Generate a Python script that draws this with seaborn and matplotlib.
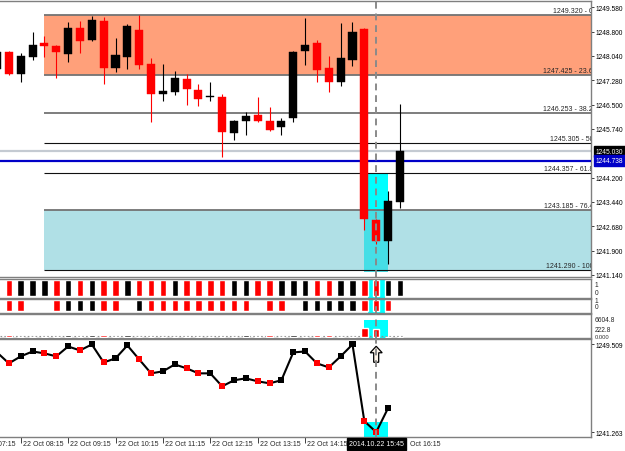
import numpy as np
import pandas as pd
import matplotlib
matplotlib.use('Agg')
import matplotlib.pyplot as plt
import matplotlib.transforms as mtransforms
from matplotlib.patches import Rectangle, Polygon
import seaborn as sns

# ---- values, 22 Oct 2014 ----
times = ['07:45',
         '08:00', '08:15', '08:30', '08:45', '09:00', '09:15', '09:30', '09:45',
         '10:00', '10:15', '10:30', '10:45', '11:00', '11:15', '11:30', '11:45',
         '12:00', '12:15', '12:30', '12:45', '13:00', '13:15', '13:30', '13:45',
         '14:00', '14:15', '14:30', '14:45', '15:00', '15:15', '15:30', '15:45',
         '16:00', '16:15']
opens = [1247.627, 1248.163, 1247.470, 1248.005, 1248.446, 1248.352, 1248.100, 1248.919, 1248.541,
         1249.139, 1247.659, 1248.005, 1248.856, 1247.785, 1246.840, 1246.903, 1247.312,
         1246.966, 1246.745, 1246.745, 1245.611, 1245.989, 1246.178, 1245.989, 1245.800,
         1246.084, 1248.194, 1248.446, 1247.659, 1247.218, 1247.911, 1248.887, 1242.871,
         1242.209, 1243.437]
highs = [1248.200, 1248.194, 1248.131, 1248.793, 1248.667, 1248.380, 1249.108, 1249.139, 1249.297,
         1249.265, 1248.604, 1249.045, 1249.328, 1247.974, 1247.785, 1247.564, 1247.470,
         1247.155, 1247.218, 1246.840, 1246.021, 1246.273, 1246.745, 1246.430, 1246.084,
         1248.194, 1249.234, 1248.541, 1248.037, 1249.076, 1249.108, 1248.920, 1242.900,
         1243.784, 1246.525]
lows = [1247.600, 1247.438, 1247.218, 1247.911, 1248.005, 1247.344, 1247.848, 1248.131, 1248.509,
        1247.155, 1247.533, 1247.627, 1247.627, 1245.958, 1246.619, 1246.808, 1246.493,
        1246.462, 1246.619, 1244.855, 1245.391, 1245.548, 1245.958, 1245.674, 1245.548,
        1245.958, 1247.753, 1247.218, 1246.903, 1247.092, 1247.722, 1242.556, 1242.100,
        1241.484, 1243.249]
closes = [1248.163, 1247.470, 1248.037, 1248.383, 1248.352, 1248.163, 1248.919, 1248.509, 1249.171,
          1247.659, 1248.068, 1248.982, 1247.753, 1246.840, 1246.934, 1247.344, 1246.997,
          1246.682, 1246.745, 1245.643, 1245.989, 1246.147, 1245.989, 1245.706, 1245.989,
          1248.163, 1248.383, 1247.596, 1247.218, 1247.974, 1248.793, 1242.902, 1242.209,
          1243.469, 1245.030]

fib_start = '08:45'
fib_levels = [1249.320, 1247.425, 1246.253, 1245.305, 1244.357, 1243.185, 1241.290]
fib_pcts = ['0', '23.6', '38.2', '50', '61.8', '76.4', '100']
price_ticks = [1249.580, 1248.800, 1248.040, 1247.280, 1246.500, 1245.740,
               1244.200, 1243.440, 1242.680, 1241.900, 1241.140]
bid_price = 1245.030
blue_level = 1244.738

signal_time = '15:45'
box_from, box_to = '15:30', '16:00'
box_top, box_bottom = 1244.32, 1241.23

# two signal strips (R = red, K = black, W = empty)
strip_top = list('K' 'RKKKRKRKRR' 'KRRRKRRRRK' 'KRRKKKRRKK' 'RRKK')
strip_bottom = list('K' 'RRWWRKKKRR' 'WKRRRRRRRR' 'RWRRWKKKKK' 'RRRW')

hist_values = [0, 650, 0, 0, 0, 0, 600, 0, 700, 650, 0, 600, 0, 0, 0, 0, 0, 0, 0, 0, 0,
               550, 0, 600, 0, 600, 0, 700, 650, 0, 0, 2900, 2550, 0, 0]
hist_max, hist_level = 6604.8, 222.8

line_values = [1248.76, 1247.73, 1248.39, 1248.85, 1248.67, 1248.39, 1249.32, 1248.95, 1249.51,
               1247.82, 1248.20, 1249.42, 1248.10, 1246.79, 1246.98, 1247.63, 1247.26,
               1246.79, 1246.79, 1245.57, 1246.14, 1246.32, 1246.04, 1245.85, 1246.14,
               1248.76, 1248.85, 1247.73, 1247.35, 1248.39, 1249.51, 1242.29, 1241.26, 1243.51]
line_max, line_min = 1249.509, 1241.263

tick_times = ['07:15', '08:15', '09:15', '10:15', '11:15', '12:15', '13:15', '14:15', '15:15', '16:15']

# ---- figure ----
sns.set_style('white')
plt.rcParams['font.family'] = ['Liberation Sans', 'DejaVu Sans']
plt.rcParams['font.size'] = 5.0
FS_AXIS = 4.8

W, H = 625, 452
fig = plt.figure(figsize=(W / 100, H / 100), dpi=100)
fig.patch.set_facecolor('white')


def panel(top, bottom):
    return fig.add_axes([0, 1 - bottom / H, 591 / W, (bottom - top) / H])


ax_main = panel(2, 278)
ax_s1 = panel(279.5, 298.5)
ax_s2 = panel(299.5, 313.5)
ax_h = panel(315, 338.5)
ax_l = panel(339.5, 438)
all_axes = [ax_main, ax_s1, ax_s2, ax_h, ax_l]

df = pd.DataFrame({'time': times, 'open': opens, 'high': highs, 'low': lows, 'close': closes})
df['k'] = np.arange(len(df))
df['up'] = df['close'] >= df['open']
cols = np.where(df['up'], 'black', '#ff0000')
x = df['k'].values
xmin, xmax = 0.25, 50.13
k_dash = times.index(signal_time)
k_fib = times.index(fib_start)
k0, k1 = times.index(box_from), times.index(box_to)

for ax in all_axes:
    ax.set_facecolor('white')
    ax.set_xticks([])
    ax.set_yticks([])
    for s in ['top', 'bottom', 'right']:
        ax.spines[s].set_color('#7f7f7f')
        ax.spines[s].set_linewidth(1.0)
    ax.spines['left'].set_visible(False)
    ax.axvline(k_dash, color='#8a8a8a', lw=1.4, ls=(0, (3.5, 2.5)), zorder=6)

# main price panel
ax_main.add_patch(Rectangle((k_fib, fib_levels[1]), xmax - k_fib, fib_levels[0] - fib_levels[1],
                            fc='#FFA07A', ec='none', zorder=1))
ax_main.add_patch(Rectangle((k_fib, fib_levels[6]), xmax - k_fib, fib_levels[5] - fib_levels[6],
                            fc='#B0E0E6', ec='none', zorder=1))
ax_main.add_patch(Rectangle((k0, fib_levels[5]), k1 - k0, box_top - fib_levels[5],
                            fc='#00FFFF', ec='none', zorder=1.5))
ax_main.add_patch(Rectangle((k0, box_bottom), k1 - k0, fib_levels[5] - box_bottom,
                            fc='#46DEE6', ec='none', zorder=1.5))

for lvl, pct in zip(fib_levels, fib_pcts):
    grey = pct in ('0', '23.6', '38.2', '76.4')
    ax_main.hlines(lvl, k_fib, xmax, color='#737373' if grey else '#101010',
                   lw=1.3 if grey else 0.8, zorder=2.5)
    ax_main.text(xmax, lvl, f'{lvl:.3f} - {pct}', ha='right', va='bottom', clip_on=True,
                 transform=mtransforms.offset_copy(ax_main.transData, fig, x=2, y=1, units='dots'),
                 zorder=5)

ax_main.axhline(bid_price, color='#C4CAD2', lw=1.6, zorder=2.4)
ax_main.axhline(blue_level, color='#0000C8', lw=1.6, zorder=2.6)

ax_main.vlines(x, df['low'], df['high'], colors=cols, lw=0.8, zorder=3)
body_lo = np.minimum(df['open'], df['close'])
body_h = np.maximum((df['close'] - df['open']).abs(), 0.03)
ax_main.bar(x, body_h, bottom=body_lo, width=0.68, color=cols, edgecolor=cols, lw=0.3, zorder=4)

ax_main.set_ylim(1241.075, 1249.77)
ax_main.yaxis.tick_right()
ax_main.set_yticks(price_ticks)
ax_main.set_yticklabels([f'{v:.3f}' for v in price_ticks])


def price_tag(ax, y, text, fc):
    tr = mtransforms.blended_transform_factory(ax.transAxes, ax.transData)
    ax.text(1.0, y, text, transform=mtransforms.offset_copy(tr, fig, x=4.5, y=0, units='dots'),
            ha='left', va='center', color='white', clip_on=False, zorder=10, fontsize=FS_AXIS,
            bbox=dict(boxstyle='square,pad=0.3', fc=fc, ec=fc))


price_tag(ax_main, bid_price, f'{bid_price:.3f}', 'black')
price_tag(ax_main, blue_level, f'{blue_level:.3f}', '#0000C8')

# signal strips
strip_colors = {'R': '#ff0000', 'K': 'black'}
for ax, codes in ((ax_s1, strip_top), (ax_s2, strip_bottom)):
    ax.set_ylim(-0.1, 1.1)
    ax.add_patch(Rectangle((k_dash - 0.72, -0.1), 1.45, 1.2, fc='#00FFFF', ec='none', zorder=1))
    keep = np.array([c != 'W' for c in codes])
    ax.bar(x[keep], 1, width=0.55, color=[strip_colors[c] for c in codes if c != 'W'], zorder=2)

for txt, py in (('1', 286), ('0', 293.5), ('1', 301.5), ('0', 308)):
    fig.text(595 / W, 1 - py / H, txt, ha='left', va='center', fontsize=FS_AXIS)

# histogram panel
ax_h.set_ylim(-170, 7790)
ax_h.add_patch(Rectangle((k0, -170), k1 - k0, 5760, fc='#00FFFF', ec='none', zorder=1))
ax_h.hlines(hist_level, xmin, x[-1] + 0.3, color='#8f8f8f', lw=0.8, ls=(0, (1.5, 2)), zorder=2)
ax_h.bar(x, hist_values, width=0.55, color=cols, zorder=3)
fig.text(595 / W, 1 - 320.5 / H, f'{hist_max:.1f}', ha='left', va='center', fontsize=FS_AXIS)
fig.text(595 / W, 1 - 331 / H, f'{hist_level:.1f}', ha='left', va='center', fontsize=FS_AXIS)
fig.text(595 / W, 1 - 337.5 / H, '0.000', ha='left', va='center', fontsize=4.2, color='#333333')

# line panel
n = len(line_values)
ldf = pd.DataFrame({'k': x[:n], 'v': line_values,
                    'dir': np.where(df['up'].values[:n], 'K', 'R')})
ax_l.add_patch(Rectangle((k0, 1240.80), k1 - k0, 1.40, fc='#00FFFF', ec='none', zorder=1))
sns.lineplot(data=ldf, x='k', y='v', color='black', lw=1.5, sort=False, ax=ax_l, zorder=3)
sns.scatterplot(data=ldf, x='k', y='v', hue='dir', palette={'K': 'black', 'R': '#ff0000'},
                marker='s', s=19, linewidth=0, legend=False, ax=ax_l, zorder=4)
ax_l.set_xlabel('')
ax_l.set_ylabel('')
ax_l.set_ylim(1240.80, 1250.07)
ax_l.yaxis.tick_right()
ax_l.set_yticks([line_max, line_min])
ax_l.set_yticklabels([f'{line_max:.3f}', f'{line_min:.3f}'])

# up arrow at the signal bar
arrow = np.array([(0, 8), (6, 1.5), (2.5, 1.5), (2.5, -8), (-2.5, -8), (-2.5, 1.5), (-6, 1.5)]) / 100
anchor = mtransforms.blended_transform_factory(ax_l.transData, ax_l.transAxes)
atr = fig.dpi_scale_trans + mtransforms.ScaledTranslation(k_dash, 0.84, anchor)
ax_l.add_artist(Polygon(arrow, closed=True, transform=atr, fc='#FFF4E8', ec='black', lw=0.9, zorder=5))

# time axis
t_start = int(times[0][:2]) * 60 + int(times[0][3:])
tick_pos = [(int(t[:2]) * 60 + int(t[3:]) - t_start) / 15 for t in tick_times]
ax_l.set_xticks([p for p in tick_pos if xmin <= p <= xmax])
ax_l.set_xticklabels([])
ax_l.tick_params(axis='x', bottom=True, length=4.5, width=0.7, direction='out', color='#404040')
lab_tr = mtransforms.blended_transform_factory(ax_l.transData, fig.transFigure)
for p, t in zip(tick_pos, tick_times):
    d = p - k_dash
    if -2.5 < d <= 0:
        continue  # hidden under the highlighted label
    label, shift = f'22 Oct {t}', 2
    if 0 < d < 3:
        label, shift = f'Oct {t}', 10  # partly covered by the highlighted label
    ax_l.text(p, 1 - 445 / H, label, ha='left', va='center', clip_on=False,
              transform=mtransforms.offset_copy(lab_tr, fig, x=shift, y=0, units='dots'))
ax_l.text(k_dash, 1 - 445 / H, '2014.10.22 ' + signal_time, ha='center', va='center', color='white',
          transform=lab_tr, clip_on=False, zorder=10,
          bbox=dict(boxstyle='square,pad=0.3', fc='black', ec='black'))

for ax in (ax_main, ax_l):
    ax.tick_params(axis='y', right=True, length=2.5, width=0.7, color='#404040', pad=0.6,
                   labelsize=FS_AXIS, labelcolor='black')
for ax in all_axes:
    ax.set_xlim(xmin, xmax)

fig.savefig('out.png', dpi=100)
